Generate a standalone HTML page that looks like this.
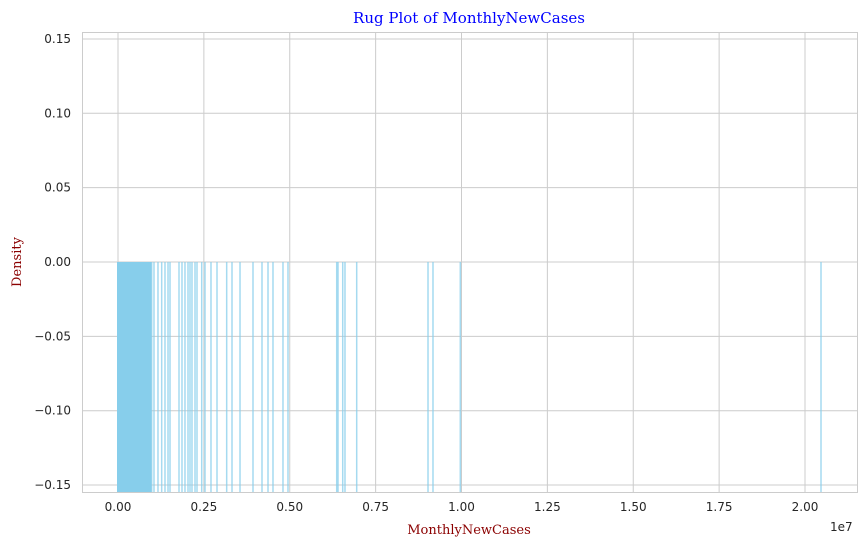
<!DOCTYPE html>
<html><head><meta charset="utf-8"><style>
body{margin:0;background:#fff}
svg{display:block;font-family:"DejaVu Sans","Liberation Sans",sans-serif}
</style></head><body>
<svg id="chart" width="866" height="546">
<rect x="0" y="0" width="866" height="546" fill="#fff"/>
<g id="grid"></g>
<g id="rug"></g>
<rect x="82.5" y="32.5" width="775" height="460" fill="none" stroke="#cccccc" stroke-width="1"/>
<g id="xt"></g><g id="yt"></g>
<text x="469" y="23" text-anchor="middle" fill="#0000ff" font-size="15" font-family="'DejaVu Serif','Liberation Serif',serif">Rug Plot of MonthlyNewCases</text>
<text x="469" y="534" text-anchor="middle" fill="#8b0000" font-size="13" font-family="'DejaVu Serif','Liberation Serif',serif">MonthlyNewCases</text>
<text x="21" y="262" text-anchor="middle" fill="#8b0000" font-size="13" font-family="'DejaVu Serif','Liberation Serif',serif" transform="rotate(-90 21 262)">Density</text>
<text x="830" y="531" fill="#262626" font-size="12">1e7</text>
</svg>
<script>
const xTicks=[0,0.25,0.5,0.75,1.0,1.25,1.5,1.75,2.0];
const xTickLabels=["0.00","0.25","0.50","0.75","1.00","1.25","1.50","1.75","2.00"];
const yTicks=[0.15,0.10,0.05,0.00,-0.05,-0.10,-0.15];
const yTickLabels=["0.15","0.10","0.05","0.00","\u22120.05","\u22120.10","\u22120.15"];
const casesSmall=[0,20000,40000,60000,80000,100000,130000,160000,190000,220000,250000,280000,310000,340000,370000,400000,430000,460000,490000,520000,550000,580000,610000,640000,670000,700000,730000,760000,790000,820000,850000,880000,910000,940000,960000];
const casesLarge=[981000,1048000,1164000,1272000,1368000,1456000,1514000,1776000,1863000,1950000,2038000,2096000,2154000,2242000,2300000,2437000,2533000,2707000,2882000,3164000,3319000,3552000,3930000,4192000,4367000,4512000,4803000,4949000,6367000,6405000,6542000,6608000,6949000,9025000,9170000,9965000,20466000];
const NS="http://www.w3.org/2000/svg";
const X=v=>118+v*343.5;            // v in units of 1e7
const Y=v=>262-v*1487;
function mk(t,a,p){const e=document.createElementNS(NS,t);for(const k in a)e.setAttribute(k,a[k]);p.appendChild(e);return e;}
const grid=document.getElementById('grid'),xt=document.getElementById('xt'),yt=document.getElementById('yt'),rug=document.getElementById('rug');
xTicks.forEach((t,i)=>{
 const l=mk('line',{x1:X(t),x2:X(t),y1:32,y2:492,stroke:'#cccccc','stroke-width':1},grid);
 
 
 const tx=mk('text',{x:X(t),y:511,'text-anchor':'middle','font-size':12,fill:'#262626'},xt);
 tx.textContent=xTickLabels[i];
 
 
});
yTicks.forEach((t,i)=>{
 const l=mk('line',{x1:82,x2:857,y1:Y(t),y2:Y(t),stroke:'#cccccc','stroke-width':1},grid);
 
 
 const tx=mk('text',{x:71,y:Y(t)+4,'text-anchor':'end','font-size':12,fill:'#262626'},yt);
 tx.textContent=yTickLabels[i];
 
 
});
casesSmall.concat(casesLarge).forEach(v=>{
 const x=X(v/1e7);
 const l=mk('line',{x1:x,x2:x,y1:Y(0),y2:492,stroke:'#87ceeb','stroke-width':1.5,'stroke-opacity':0.75},rug);
 
 
});
// fill dense low region
const r=mk('rect',{x:X(0)-1,y:Y(0),width:X(0.096)-X(0)+1,height:492-Y(0),fill:'#87ceeb'},rug);


</script>
</body></html>
